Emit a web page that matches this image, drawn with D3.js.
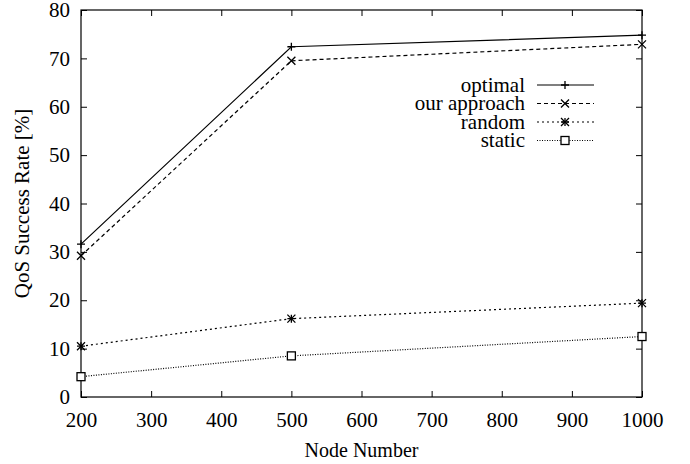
<!DOCTYPE html>
<html>
<head>
<meta charset="utf-8">
<script src="https://cdnjs.cloudflare.com/ajax/libs/d3/7.8.5/d3.min.js"></script>
<style>
  body { margin: 0; background: #fff; }
  text { font-family: "Liberation Serif", "DejaVu Serif", serif; fill: #000; }
</style>
</head>
<body>
<svg id="canvas" width="690" height="464"></svg>
<script>
var nodes = [200, 500, 1000];
var optimal = [31.6, 72.4, 74.8];
var ourApproach = [29.2, 69.5, 72.9];
var random = [10.5, 16.2, 19.4];
var staticRate = [4.2, 8.5, 12.5];
var xTicks = [200, 300, 400, 500, 600, 700, 800, 900, 1000];
var yTicks = [0, 10, 20, 30, 40, 50, 60, 70, 80];

var series = [
  {name: "optimal", values: optimal, dash: null, marker: "plus"},
  {name: "our approach", values: ourApproach, dash: "4,3", marker: "cross"},
  {name: "random", values: random, dash: "2,3", marker: "star"},
  {name: "static", values: staticRate, dash: "1,1.5", marker: "square"}
];

var svg = d3.select("#canvas");
var margin = {top: 10, right: 48, bottom: 67, left: 81};
var width = +svg.attr("width") - margin.left - margin.right;
var height = +svg.attr("height") - margin.top - margin.bottom;

var g = svg.append("g")
  .attr("transform", "translate(" + margin.left + "," + margin.top + ")");

var x = d3.scaleLinear().domain([200, 1000]).range([0, width]);
var y = d3.scaleLinear().domain([0, 80]).range([height, 0]);

// axes, ticks pointing inward, mirrored on top and right
var tl = 6;
g.append("g").attr("transform", "translate(0," + height + ")")
  .call(d3.axisBottom(x).tickValues(xTicks).tickFormat(d3.format("d"))
    .tickSizeInner(-tl).tickSizeOuter(0).tickPadding(15));
g.append("g")
  .call(d3.axisTop(x).tickValues(xTicks).tickSizeInner(-tl).tickSizeOuter(0).tickFormat(""));
g.append("g")
  .call(d3.axisLeft(y).tickValues(yTicks).tickSizeInner(-tl).tickSizeOuter(0).tickPadding(11));
g.append("g").attr("transform", "translate(" + width + ",0)")
  .call(d3.axisRight(y).tickValues(yTicks).tickSizeInner(-tl).tickSizeOuter(0).tickFormat(""));

g.selectAll(".domain").remove();
g.selectAll(".tick line").attr("stroke", "#000").attr("stroke-width", 1);
g.selectAll(".tick text").style("font-size", "21px");

g.append("rect")
  .attr("width", width).attr("height", height)
  .attr("fill", "none").attr("stroke", "#000").attr("stroke-width", 1.2);

function marker(sel, type, cx, cy) {
  var s = 4;
  var p = sel.append("g").attr("transform", "translate(" + cx + "," + cy + ")")
    .attr("stroke", "#000").attr("stroke-width", 1.3).attr("fill", "none");
  if (type === "plus" || type === "star") {
    p.append("path").attr("d", "M" + (-s) + ",0H" + s + "M0," + (-s) + "V" + s);
  }
  if (type === "cross" || type === "star") {
    p.append("path").attr("d", "M" + (-s) + "," + (-s) + "L" + s + "," + s + "M" + (-s) + "," + s + "L" + s + "," + (-s));
  }
  if (type === "square") {
    p.append("rect").attr("x", -s).attr("y", -s).attr("width", 2 * s).attr("height", 2 * s)
      .attr("fill", "#fff");
  }
}

var line = d3.line()
  .x(function(d, i) { return x(nodes[i]); })
  .y(function(d) { return y(d); });

series.forEach(function(s) {
  g.append("path")
    .attr("d", line(s.values))
    .attr("fill", "none")
    .attr("stroke", "#000")
    .attr("stroke-width", 1.2)
    .attr("stroke-dasharray", s.dash);
  s.values.forEach(function(v, i) {
    marker(g, s.marker, x(nodes[i]), y(v));
  });
});

// legend
var legend = svg.append("g");
series.forEach(function(s, i) {
  var ly = 85 + i * 18.5;
  legend.append("text")
    .attr("x", 525).attr("y", ly)
    .attr("dy", "0.33em")
    .attr("text-anchor", "end")
    .style("font-size", "21px")
    .text(s.name);
  legend.append("line")
    .attr("x1", 537).attr("x2", 594).attr("y1", ly).attr("y2", ly)
    .attr("stroke", "#000").attr("stroke-width", 1.2)
    .attr("stroke-dasharray", s.dash);
  marker(legend, s.marker, 565, ly);
});

// axis titles
svg.append("text")
  .attr("x", margin.left + width / 2).attr("y", 457)
  .attr("text-anchor", "middle")
  .style("font-size", "20px")
  .text("Node Number");
svg.append("text")
  .attr("transform", "translate(29," + (margin.top + height / 2) + ") rotate(-90)")
  .attr("text-anchor", "middle")
  .style("font-size", "21px")
  .text("QoS Success Rate [%]");
</script>
</body>
</html>
